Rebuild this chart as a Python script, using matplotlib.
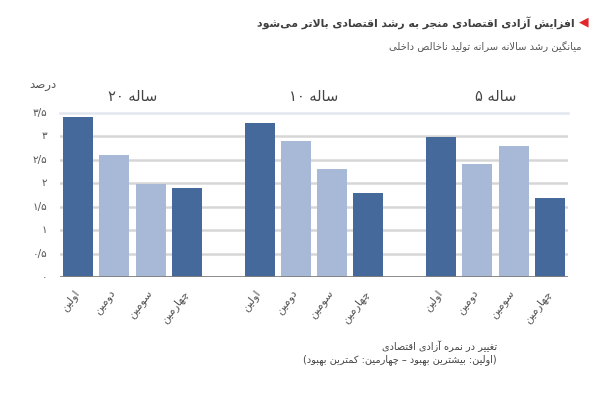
import matplotlib
matplotlib.use("Agg")
import matplotlib.pyplot as plt
import numpy as np

# ---------------- data ----------------
groups = ["ساله ۲۰", "ساله ۱۰", "ساله ۵"]
ranks = ["اولین", "دومین", "سومین", "چهارمین"]
values_20 = [3.40, 2.59, 1.98, 1.89]
values_10 = [3.29, 2.89, 2.30, 1.80]
values_5 = [2.99, 2.40, 2.80, 1.69]
yticks = [0, 0.5, 1, 1.5, 2, 2.5, 3, 3.5]
ytick_labels = ["۰", "۰/۵", "۱", "۱/۵", "۲", "۲/۵", "۳", "۳/۵"]
title = "افزایش آزادی اقتصادی منجر به رشد اقتصادی بالاتر می‌شود"
subtitle = "میانگین رشد سالانه سرانه تولید ناخالص داخلی"
ylabel = "درصد"
note1 = "تغییر در نمره آزادی اقتصادی"
note2 = "(اولین: بیشترین بهبود – چهارمین: کمترین بهبود)"

# ---------------- minimal Persian shaping ----------------
FORMS = {
    'ا': (0xFE8D, 0xFE8E, None, None), 'آ': (0xFE81, 0xFE82, None, None),
    'ب': (0xFE8F, 0xFE90, 0xFE91, 0xFE92), 'پ': (0xFB56, 0xFB57, 0xFB58, 0xFB59),
    'ت': (0xFE95, 0xFE96, 0xFE97, 0xFE98), 'ث': (0xFE99, 0xFE9A, 0xFE9B, 0xFE9C),
    'ج': (0xFE9D, 0xFE9E, 0xFE9F, 0xFEA0), 'چ': (0xFB7A, 0xFB7B, 0xFB7C, 0xFB7D),
    'ح': (0xFEA1, 0xFEA2, 0xFEA3, 0xFEA4), 'خ': (0xFEA5, 0xFEA6, 0xFEA7, 0xFEA8),
    'د': (0xFEA9, 0xFEAA, None, None), 'ذ': (0xFEAB, 0xFEAC, None, None),
    'ر': (0xFEAD, 0xFEAE, None, None), 'ز': (0xFEAF, 0xFEB0, None, None),
    'ژ': (0xFB8A, 0xFB8B, None, None),
    'س': (0xFEB1, 0xFEB2, 0xFEB3, 0xFEB4), 'ش': (0xFEB5, 0xFEB6, 0xFEB7, 0xFEB8),
    'ص': (0xFEB9, 0xFEBA, 0xFEBB, 0xFEBC), 'ض': (0xFEBD, 0xFEBE, 0xFEBF, 0xFEC0),
    'ط': (0xFEC1, 0xFEC2, 0xFEC3, 0xFEC4), 'ظ': (0xFEC5, 0xFEC6, 0xFEC7, 0xFEC8),
    'ع': (0xFEC9, 0xFECA, 0xFECB, 0xFECC), 'غ': (0xFECD, 0xFECE, 0xFECF, 0xFED0),
    'ف': (0xFED1, 0xFED2, 0xFED3, 0xFED4), 'ق': (0xFED5, 0xFED6, 0xFED7, 0xFED8),
    'ک': (0xFB8E, 0xFB8F, 0xFB90, 0xFB91), 'گ': (0xFB92, 0xFB93, 0xFB94, 0xFB95),
    'ل': (0xFEDD, 0xFEDE, 0xFEDF, 0xFEE0), 'م': (0xFEE1, 0xFEE2, 0xFEE3, 0xFEE4),
    'ن': (0xFEE5, 0xFEE6, 0xFEE7, 0xFEE8), 'و': (0xFEED, 0xFEEE, None, None),
    'ه': (0xFEE9, 0xFEEA, 0xFEEB, 0xFEEC), 'ی': (0xFBFC, 0xFBFD, 0xFBFE, 0xFBFF),
}
LAMALEF = {'ا': (0xFEFB, 0xFEFC), 'آ': (0xFEF5, 0xFEF6)}


def dual(c):
    return c in FORMS and FORMS[c][2] is not None


def shape(text):
    text = text.replace('\u200c', '\u0001')  # ZWNJ breaks joining
    chars = list(text)
    out = []
    i = 0
    n = len(chars)
    while i < n:
        c = chars[i]
        prev = chars[i - 1] if i > 0 else None
        join_prev = prev is not None and dual(prev)
        if c == 'ل' and i + 1 < n and chars[i + 1] in LAMALEF:
            iso, fin = LAMALEF[chars[i + 1]]
            out.append(chr(fin if join_prev else iso))
            i += 2
            continue
        if c in FORMS:
            iso, fin, ini, med = FORMS[c]
            nxt = chars[i + 1] if i + 1 < n else None
            join_next = ini is not None and nxt is not None and nxt in FORMS
            if join_prev and join_next:
                out.append(chr(med))
            elif join_prev:
                out.append(chr(fin))
            elif join_next:
                out.append(chr(ini))
            else:
                out.append(chr(iso))
        elif c == '\u0001':
            pass
        else:
            out.append(c)
        i += 1
    return ''.join(out)


DIGITS = set('0123456789۰۱۲۳۴۵۶۷۸۹/.')
MIRROR = {'(': ')', ')': '('}


def fa(text):
    s = shape(text)
    runs = []
    cur = ''
    cur_num = None
    for ch in s:
        isn = ch in DIGITS
        if cur_num is None or isn == cur_num:
            cur += ch
        else:
            runs.append((cur, cur_num))
            cur = ch
        cur_num = isn
    if cur:
        runs.append((cur, cur_num))
    res = []
    for r, isn in reversed(runs):
        if isn:
            res.append(r)
        else:
            res.append(''.join(MIRROR.get(ch, ch) for ch in reversed(r)))
    return ''.join(res)


# ---------------- figure ----------------
plt.rcParams['font.family'] = ['DejaVu Sans']
fig = plt.figure(figsize=(6, 4), dpi=100)
fig.patch.set_facecolor('white')

W, H = 600, 400
ax = fig.add_axes([60 / W, 1 - 277.3 / H, 508 / W, (277.3 - 112.7) / H])

dark = '#45699b'
light = '#a8b9d7'
colors = [dark, light, light, dark]

all_vals = [values_20, values_10, values_5]
for g, vals in enumerate(all_vals):
    xs = np.arange(4) + 5 * g
    ax.bar(xs, vals, width=0.83, color=colors, zorder=3)

ax.set_xlim(-0.5, 13.5)
ax.set_ylim(0, 3.5)
for y in yticks[1:-1]:
    ax.axhline(y, color='#d6d6d6', lw=1.8, zorder=1)
ax.axhline(3.5, color='#e2e7ee', lw=1.8, zorder=1, clip_on=False)
ax.axhline(0, color='#808080', lw=2, zorder=4)

for s in ax.spines.values():
    s.set_visible(False)
ax.tick_params(length=0)
ax.set_xticks([])
ax.set_yticks([])

# y tick labels
for y, lab in zip(yticks, ytick_labels):
    ax.text(-0.85, y, lab, ha='right', va='center', fontsize=7.5,
            color='#555555', transform=ax.transData)

ax.text(-1.35, 4.1, fa(ylabel), ha='left', va='center', fontsize=8.5, color='#555555')

# group headings
for g, name in enumerate(groups):
    ax.text(1.5 + 5 * g, 3.85, fa(name), ha='center', va='center',
            fontsize=10.5, color='#444444')

# x labels rotated
for g in range(3):
    for k, r in enumerate(ranks):
        x = k + 5 * g
        ax.text(x - 0.02, -0.3, fa(r), rotation=52, rotation_mode='anchor',
                ha='right', va='center', fontsize=8, color='#555555')

# title / subtitle
fig.text(575 / W, 1 - 23 / H, fa(title), ha='right', va='center',
         fontsize=7.8, fontweight='bold', color='#3f3f3f')
fig.text(589 / W, 1 - 22 / H, '◀', ha='right', va='center', fontsize=9, color='#e3262b')
fig.text(582 / W, 1 - 47 / H, fa(subtitle), ha='right', va='center',
         fontsize=7.2, color='#555555')

# footnote
fig.text(497 / W, 1 - 346 / H, fa(note1), ha='right', va='center', fontsize=7, color='#444444')
fig.text(497 / W, 1 - 360 / H, fa(note2), ha='right', va='center', fontsize=7, color='#444444')

fig.savefig('out.png', dpi=100, facecolor='white')
